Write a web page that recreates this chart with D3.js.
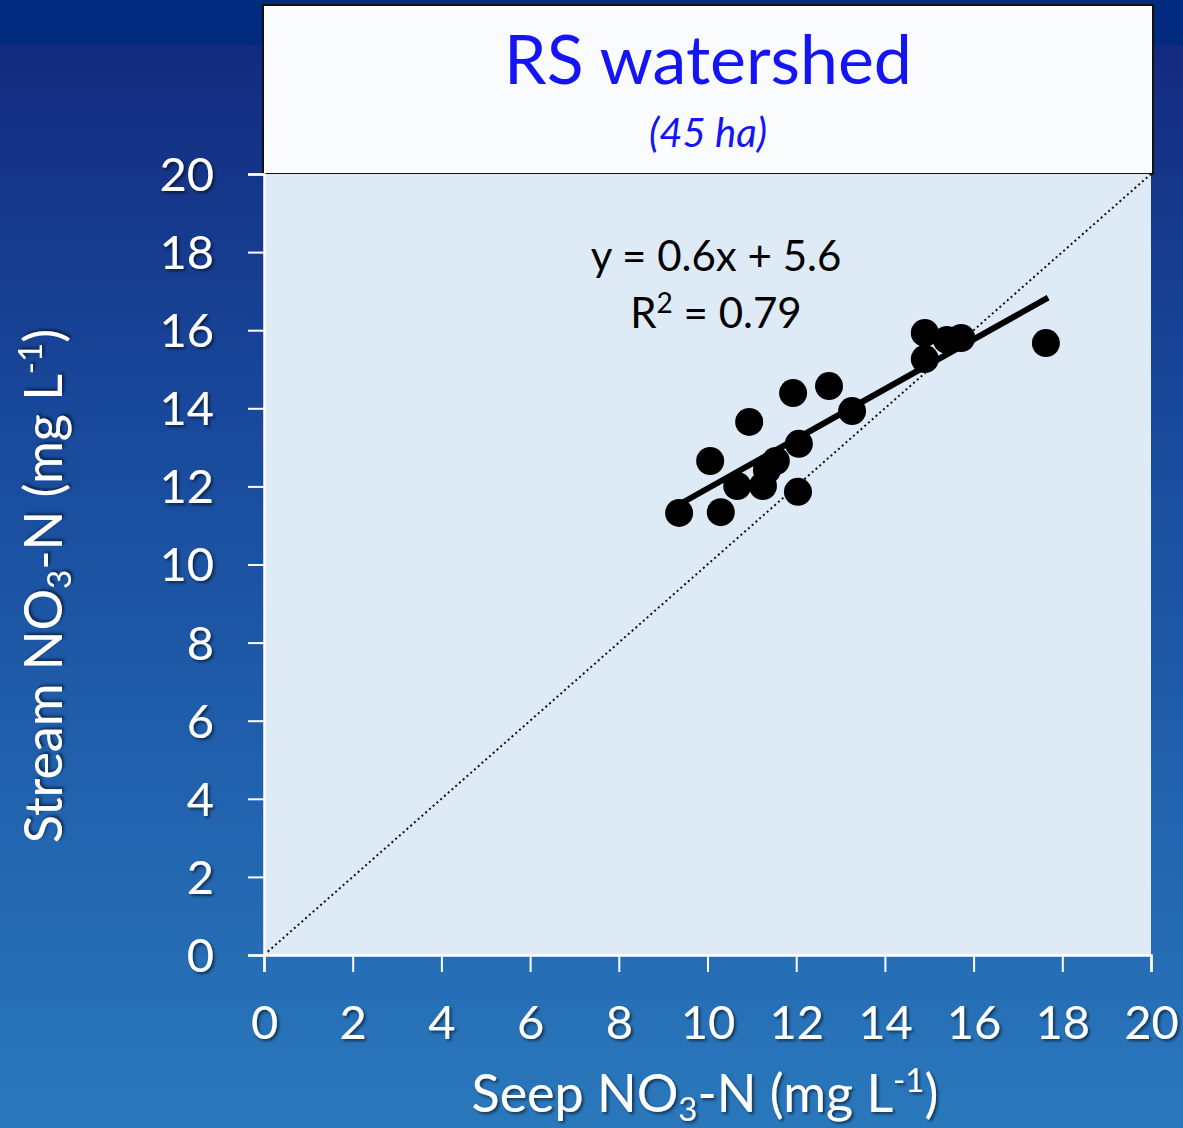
<html>
<head>
<script src="https://d3js.org/d3.v7.min.js"></script>
<style>
  body { margin: 0; }
  text { font-family: Lato, "Open Sans", sans-serif; }
</style>
</head>
<body>
<svg id="chart" width="1183" height="1128"></svg>
<script>
// seep vs stream nitrate
var seepNO3 = [9.36, 10.30, 10.06, 10.67, 11.25, 11.34, 11.54, 12.06, 12.04, 10.94, 11.93, 12.74, 13.26, 14.90, 14.90, 15.40, 15.72, 17.63];
var streamNO3 = [11.32, 11.34, 12.65, 12.01, 12.01, 12.42, 12.65, 13.09, 11.86, 13.65, 14.39, 14.57, 13.93, 15.93, 15.26, 15.75, 15.80, 15.67];
var xTicks = [0, 2, 4, 6, 8, 10, 12, 14, 16, 18, 20];
var yTicks = [0, 2, 4, 6, 8, 10, 12, 14, 16, 18, 20];
var titleText = "RS watershed";
var subtitleText = "(45 ha)";
var eqText = "y = 0.6x + 5.6";

var svg = d3.select('#chart');
var W = 1183, H = 1128;
var pLeft = 264, pRight = 1151, pTop = 174, pBottom = 955;

var defs = svg.append('defs');
var grad = defs.append('linearGradient').attr('id', 'bg').attr('x1', 0).attr('y1', 0).attr('x2', 0).attr('y2', 1);
grad.append('stop').attr('offset', '0%').attr('stop-color', '#13277b');
grad.append('stop').attr('offset', '35%').attr('stop-color', '#18479a');
grad.append('stop').attr('offset', '70%').attr('stop-color', '#2162ae');
grad.append('stop').attr('offset', '100%').attr('stop-color', '#2a78bc');

var shadow = defs.append('filter').attr('id', 'shadow').attr('x', '-10%').attr('y', '-10%').attr('width', '120%').attr('height', '130%');
shadow.append('feDropShadow').attr('dx', 2).attr('dy', 2).attr('stdDeviation', 1.5)
  .attr('flood-color', '#000').attr('flood-opacity', 0.55);

svg.append('rect').attr('width', W).attr('height', H).attr('fill', 'url(#bg)');
svg.append('rect').attr('width', W).attr('height', 45).attr('fill', '#022a7f');

var x = d3.scaleLinear().domain([0, 20]).range([pLeft, pRight]);
var y = d3.scaleLinear().domain([0, 20]).range([pBottom, pTop]);

// title box
svg.append('rect').attr('x', 263).attr('y', 5).attr('width', 890).attr('height', pTop - 5)
  .attr('fill', '#fafbfd').attr('stroke', '#111').attr('stroke-width', 2);
svg.append('text').attr('x', 708).attr('y', 84).attr('text-anchor', 'middle')
  .attr('font-size', 68).attr('fill', '#1414f5').text(titleText);
svg.append('text').attr('x', 708).attr('y', 147).attr('text-anchor', 'middle')
  .attr('font-size', 40).attr('font-style', 'italic').attr('fill', '#1414f5').text(subtitleText);

// plot area
svg.append('rect').attr('x', pLeft).attr('y', pTop).attr('width', pRight - pLeft).attr('height', pBottom - pTop)
  .attr('fill', '#deeaf6');

// 1:1 line
svg.append('line').attr('x1', x(0)).attr('y1', y(0)).attr('x2', x(20)).attr('y2', y(20))
  .attr('stroke', '#111').attr('stroke-width', 2).attr('stroke-dasharray', '2,3');

// axes
var xAxis = svg.append('g').attr('transform', 'translate(0,' + pBottom + ')')
  .call(d3.axisBottom(x).tickValues(xTicks).tickSize(17).tickPadding(34).tickFormat(d3.format('d')));
var yAxis = svg.append('g').attr('transform', 'translate(' + pLeft + ',0)')
  .call(d3.axisLeft(y).tickValues(yTicks).tickSize(16).tickPadding(34).tickFormat(d3.format('d')));
[xAxis, yAxis].forEach(function(g) {
  g.select('.domain').attr('stroke', '#fff').attr('stroke-width', 2.5);
  g.selectAll('.tick line').attr('stroke', '#fff').attr('stroke-width', 2);
  g.selectAll('.tick text').attr('fill', '#fff').attr('font-size', 47)
    .attr('font-family', 'Lato, "Open Sans", sans-serif').attr('filter', 'url(#shadow)');
});
xAxis.selectAll('.tick text').attr('dy', '0.71em');
yAxis.selectAll('.tick text').attr('dy', '0.35em');

// least squares trend line
var pts = seepNO3.map(function(v, i) { return [v, streamNO3[i]]; });
var mx = d3.mean(seepNO3), my = d3.mean(streamNO3);
var slope = d3.sum(pts, function(p) { return (p[0] - mx) * (p[1] - my); }) /
            d3.sum(pts, function(p) { return (p[0] - mx) * (p[0] - mx); });
var icpt = my - slope * mx;
var x0 = d3.min(seepNO3) - 0.05, x1 = d3.max(seepNO3) + 0.05;
svg.append('line').attr('x1', x(x0)).attr('y1', y(slope * x0 + icpt))
  .attr('x2', x(x1)).attr('y2', y(slope * x1 + icpt))
  .attr('stroke', '#000').attr('stroke-width', 6);

svg.append('g').selectAll('circle').data(pts).enter().append('circle')
  .attr('cx', function(d) { return x(d[0]); })
  .attr('cy', function(d) { return y(d[1]); })
  .attr('r', 14).attr('fill', '#000');

// equation
svg.append('text').attr('x', 716).attr('y', 271).attr('text-anchor', 'middle')
  .attr('font-size', 42).attr('fill', '#000').text(eqText);
var r2 = svg.append('text').attr('x', 716).attr('y', 328).attr('text-anchor', 'middle')
  .attr('font-size', 42).attr('fill', '#000');
r2.append('tspan').text('R');
r2.append('tspan').attr('font-size', 28).attr('dy', -15).text('2');
r2.append('tspan').attr('dy', 15).text(' = 0.79');

// axis titles
var xt = svg.append('text').attr('x', 705).attr('y', 1112).attr('text-anchor', 'middle')
  .attr('font-size', 52).attr('fill', '#fff').attr('filter', 'url(#shadow)');
xt.append('tspan').text('Seep NO');
xt.append('tspan').attr('font-size', 33).attr('dy', 9).text('3');
xt.append('tspan').attr('dy', -9).text('-N (mg L');
xt.append('tspan').attr('font-size', 33).attr('dy', -20).text('-1');
xt.append('tspan').attr('dy', 20).text(')');

var yt = svg.append('text').attr('transform', 'translate(62,586) rotate(-90)').attr('text-anchor', 'middle')
  .attr('font-size', 52).attr('fill', '#fff').attr('filter', 'url(#shadow)');
yt.append('tspan').text('Stream NO');
yt.append('tspan').attr('font-size', 33).attr('dy', 9).text('3');
yt.append('tspan').attr('dy', -9).text('-N (mg L');
yt.append('tspan').attr('font-size', 33).attr('dy', -20).text('-1');
yt.append('tspan').attr('dy', 20).text(')');
</script>
</body>
</html>
